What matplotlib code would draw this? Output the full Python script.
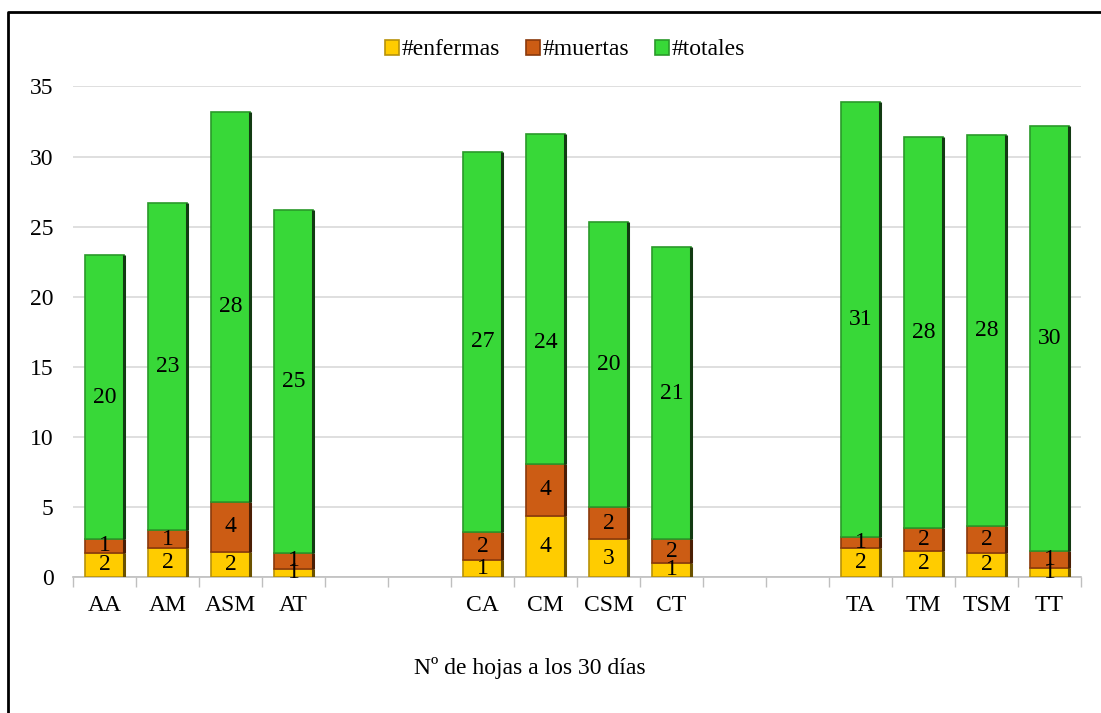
import numpy as np
import matplotlib
matplotlib.use("Agg")
import matplotlib.pyplot as plt
from matplotlib.lines import Line2D

plt.rcParams['font.family'] = ['Liberation Serif', 'DejaVu Serif']

# categories (blank slots are the gaps between groups)
categories = ["AA", "AM", "ASM", "AT", "", "", "CA", "CM", "CSM", "CT", "", "", "TA", "TM", "TSM", "TT"]
enfermas = [1.74, 2.05, 1.80, 0.60, 1.21, 4.38, 2.69, 1.02, 2.05, 1.86, 1.74, 0.62]
muertas = [0.95, 1.31, 3.55, 1.09, 1.98, 3.67, 2.33, 1.67, 0.78, 1.62, 1.93, 1.24]
totales = [20.31, 23.34, 27.85, 24.51, 27.17, 23.55, 20.28, 20.86, 31.07, 27.92, 27.88, 30.34]
series_names = ["#enfermas", "#muertas", "#totales"]
xlabel = "Nº de hojas a los 30 días"

face = ["#FFCC00", "#CC5C14", "#38D838"]
edge = ["#B8920A", "#8A3A0C", "#2A9A2A"]
dark = ["#6B5200", "#4A1E04", "#123A12"]

# the CM total label sits lower than the middle of its segment in the original
label_shift = {("#totales", "CM"): -3.1}

fig = plt.figure(figsize=(11.01, 7.13), dpi=100)
ax = fig.add_axes([0.0663, 0.1907, 0.9155, 0.688])

x = np.array([i for i, c in enumerate(categories) if c])
names = [c for c in categories if c]
w = 0.63
bottom = np.zeros(len(x))
for vals, name, fc, ec, dc in zip([enfermas, muertas, totales], series_names, face, edge, dark):
    vals = np.array(vals)
    ax.bar(x, vals, w, bottom=bottom, color=fc, edgecolor=ec, linewidth=1.2, label=name, zorder=3)
    # darker right side for the bevel look
    ax.vlines(x + w / 2, bottom, bottom + vals, color=dc, linewidth=2.2, zorder=4)
    for xi, cat, b, v in zip(x, names, bottom, vals):
        y = b + v / 2 + label_shift.get((name, cat), 0)
        ax.text(xi, y, "{:.0f}".format(v), ha="center", va="center", fontsize=17, zorder=5)
    bottom = bottom + vals

ax.set_xlim(-0.5, len(categories) - 0.5)
ax.set_ylim(0, 35)
ax.set_yticks(range(0, 36, 5))
ax.set_xticks(range(len(categories)))
ax.set_xticklabels(categories)
ax.set_xticks(np.arange(-0.5, len(categories), 1), minor=True)
ax.tick_params(axis="x", which="major", length=0, pad=13, labelsize=17)
ax.tick_params(axis="x", which="minor", length=7, color="#BFBFBF", width=1)
ax.tick_params(axis="y", length=0, pad=14, labelsize=17)
ax.grid(axis="y", color="#D9D9D9", linewidth=1.2, zorder=0)
for s in ["left", "right", "top"]:
    ax.spines[s].set_visible(False)
ax.spines["bottom"].set_color("#BFBFBF")
ax.spines["bottom"].set_linewidth(1.2)

leg = fig.legend(loc="center", bbox_to_anchor=(0.513, 0.930), ncol=3, frameon=False,
                 fontsize=17, handlelength=0.6, handleheight=0.6, handletextpad=0.1,
                 columnspacing=1.1)

fig.text(530 / 1101, 1 - 668 / 713, xlabel, ha="center", va="center", fontsize=17)

# outer chart frame (only top and left edges visible)
fig.add_artist(Line2D([0.0073, 0.0073, 1.0], [0.0, 0.9832, 0.9832], transform=fig.transFigure,
                      color="black", linewidth=2))

fig.savefig("out.png", dpi=100, facecolor="white")
